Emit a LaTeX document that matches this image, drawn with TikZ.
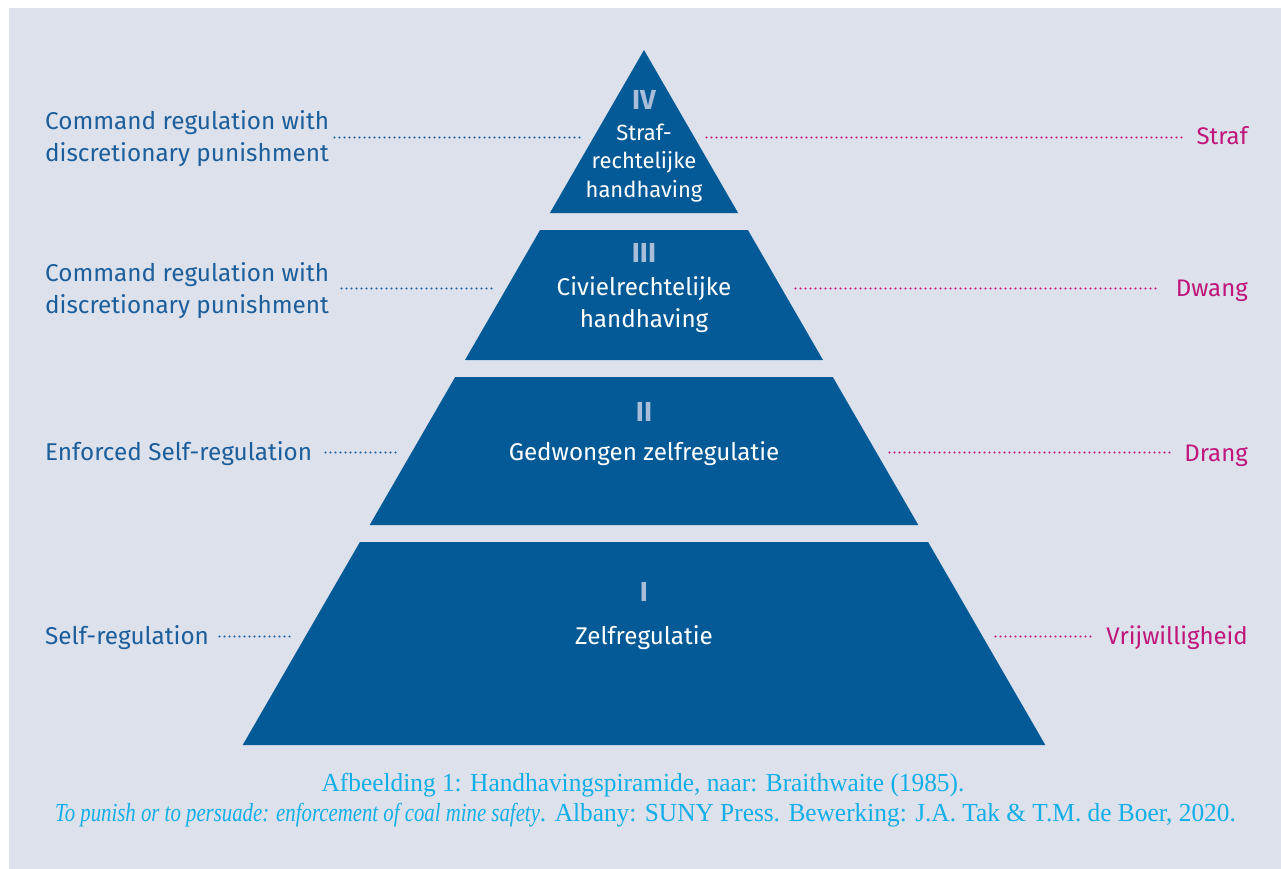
\documentclass[tikz,border=0pt]{standalone}
\usepackage{fontspec}
\setmainfont{Fira Sans}
\newfontfamily\capfont[FakeStretch=0.975]{Liberation Serif}
\newfontface\capit[FakeStretch=0.80]{Liberation Serif Italic}
\definecolor{bg}{HTML}{DCE1EC}
\definecolor{pyr}{HTML}{045A96}
\definecolor{numc}{HTML}{A9BDD8}
\definecolor{lblue}{HTML}{1B5E9B}
\definecolor{mag}{HTML}{C0157A}
\definecolor{capc}{HTML}{12AEE8}
\tikzset{
  tier/.style={fill=pyr},
  numeral/.style={font=\fontsize{27.5}{28}\selectfont\bfseries, text=numc, inner sep=0pt, anchor=base},
  intext/.style={font=\fontsize{24.2}{28}\selectfont, text=white, inner sep=0pt, anchor=base, align=center},
  intextsmall/.style={intext, font=\fontsize{22}{28}\selectfont},
  leftlbl/.style={font=\fontsize{24.3}{32}\selectfont, text=lblue, inner sep=0pt, anchor=base west, align=left},
  rightlbl/.style={font=\fontsize{24}{32}\selectfont, text=mag, inner sep=0pt, anchor=base east},
  ldots/.style={draw=lblue, line width=2.4pt, line cap=round, dash pattern=on 0pt off 5pt},
  rdots/.style={draw=mag, line width=2.4pt, line cap=round, dash pattern=on 0pt off 5pt},
  captxt/.style={font=\capfont\fontsize{26}{29}\selectfont, text=capc, inner sep=0pt, anchor=base}
}
\begin{document}
\begin{tikzpicture}[x=1pt,y=-1pt]
\useasboundingbox (0,0) rectangle (1281,869);
\fill[white] (0,0) rectangle (1281,869);
\fill[bg] (9,8) rectangle (1281,869);
% pyramid tiers
\fill[tier] (644,50) -- (738.1,213) -- (549.9,213) -- cycle;
\fill[tier] (540.1,230) -- (747.9,230) -- (823,360) -- (465,360) -- cycle;
\fill[tier] (455.2,377) -- (832.8,377) -- (918.3,525) -- (369.7,525) -- cycle;
\fill[tier] (359.9,542) -- (928.1,542) -- (1045.3,745) -- (242.7,745) -- cycle;
% numerals
\node[numeral] (n4) at (644,110) {IV};
\node[numeral] (n3) at (644,262) {III};
\node[numeral] (n2) at (644,421) {II};
\node[numeral] (n1) at (644,601) {I};
% tier texts
\node[intextsmall] (t4a) at (644,141) {Straf-};
\node[intextsmall] (t4b) at (644,169) {rechtelijke};
\node[intextsmall] (t4c) at (644,197) {handhaving};
\node[intext] (t3a) at (644,295) {Civielrechtelijke};
\node[intext] (t3b) at (644,327) {handhaving};
\node[intext] (t2) at (644,460) {Gedwongen zelfregulatie};
\node[intext] (t1) at (644,644) {Zelfregulatie};
% left labels
\node[leftlbl] (l4) at (45,161) {Command regulation with\\discretionary punishment};
\node[leftlbl] (l3) at (45,313) {Command regulation with\\discretionary punishment};
\node[leftlbl] (l2) at (45,460) {Enforced Self-regulation};
\node[leftlbl] (l1) at (45,644) {Self-regulation};
% right labels
\node[rightlbl] (r4) at (1248,145) {Straf};
\node[rightlbl] (r3) at (1248,296) {Dwang};
\node[rightlbl] (r2) at (1248,461) {Drang};
\node[rightlbl] (r1) at (1248,644) {Vrijwilligheid};
% dot line endpoints
\coordinate (l4s) at (334.5,137.5); \coordinate (l4e) at (580,137.5);
\coordinate (l3s) at (341.5,288.5); \coordinate (l3e) at (495,288.5);
\coordinate (l2s) at (325.5,452.5); \coordinate (l2e) at (398,452.5);
\coordinate (l1s) at (219.5,636.5); \coordinate (l1e) at (290,636.5);
\coordinate (r4s) at (706.5,137.5); \coordinate (r4e) at (1182,137.5);
\coordinate (r3s) at (795.5,288.5); \coordinate (r3e) at (1157,288.5);
\coordinate (r2s) at (889.5,452.5); \coordinate (r2e) at (1172,452.5);
\coordinate (r1s) at (995.5,636.5); \coordinate (r1e) at (1092,636.5);
\draw[ldots] (l4s) -- (l4e);
\draw[ldots] (l3s) -- (l3e);
\draw[ldots] (l2s) -- (l2e);
\draw[ldots] (l1s) -- (l1e);
\draw[rdots] (r4s) -- (r4e);
\draw[rdots] (r3s) -- (r3e);
\draw[rdots] (r2s) -- (r2e);
\draw[rdots] (r1s) -- (r1e);
% caption
\node[captxt] (c1) at (643,791) {Afbeelding 1: Handhavingspiramide, naar: Braithwaite (1985).};
\node[captxt] (c2) at (645.5,821) {{\capit To punish or to persuade: enforcement of coal mine safety}. Albany: SUNY Press. Bewerking: J.A. Tak \& T.M. de Boer, 2020.};
\end{tikzpicture}
\end{document}
